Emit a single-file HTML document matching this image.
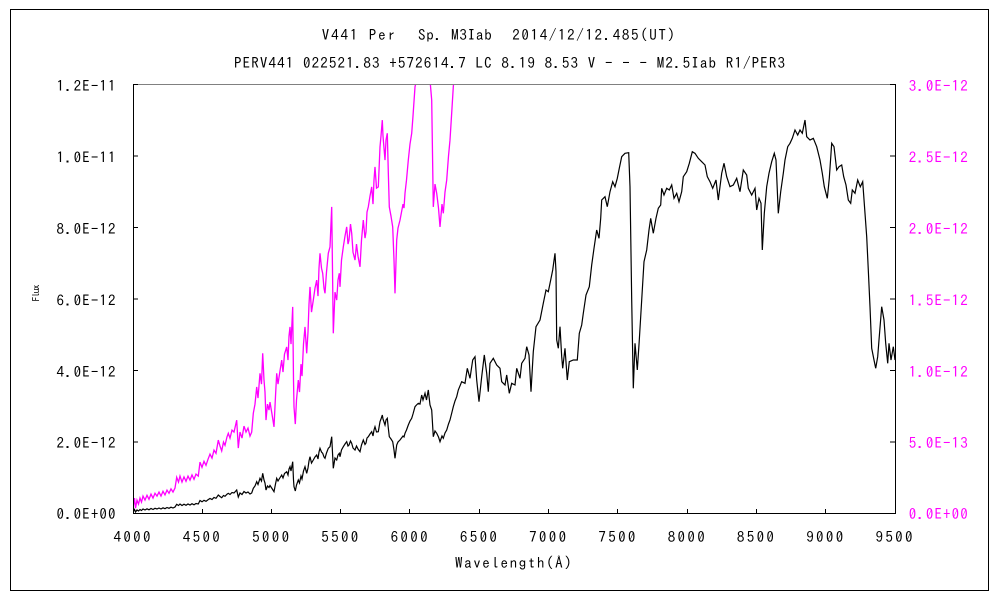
<!DOCTYPE html>
<html><head><meta charset="utf-8"><style>
html,body{margin:0;padding:0;background:#fff;}
svg{display:block;}
text{font-family:"IPAGothic","Liberation Sans","Noto Sans CJK JP",sans-serif;}
</style></head><body>
<svg width="1000" height="600" viewBox="0 0 1000 600" xmlns="http://www.w3.org/2000/svg">
<defs><clipPath id="pc"><rect x="133" y="85" width="762" height="428.5"/></clipPath></defs>
<rect x="0" y="0" width="1000" height="600" fill="#fff"/>
<rect x="10.5" y="9.5" width="978" height="581" fill="none" stroke="#000" stroke-width="1"/>

<!-- titles -->
<g font-size="15" fill="#000">
<text x="321.7" y="40" textLength="73.3">V441 Per</text>
<text x="418" y="40" textLength="73.7">Sp. M3Iab</text>
<text x="512.3" y="40" textLength="162.7">2014/12/12.485(UT)</text>
<text x="234" y="68" textLength="551">PERV441 022521.83 +572614.7 LC 8.19 8.53 V - - - M2.5Iab R1/PER3</text>
</g>

<!-- series -->
<g clip-path="url(#pc)" fill="none" stroke-linejoin="miter">
<g transform="translate(0,513.3) scale(1,4) translate(0,-513.3)">
<polyline stroke="#ff00ff" stroke-width="1.3" vector-effect="non-scaling-stroke" points="133.3,511.5 134.5,509.5 135.5,512 137,510 138.5,511 140,509.5 141.5,510.5 143,509 145,510 147,508.8 149,509.8 151,508.5 153,509.5 155,508.3 157,509 159,508 161,509 163,507.8 165,508.7 167,507.5 169,508.3 171,507.2 173,508 175,507 176.7,504.3 178.5,505.5 180,504 182,505.5 184,504.2 186,505.3 188,504 190,505 192,503.7 194,504.8 196,503.5 198.3,504 200,500.5 202,501.8 204,500.3 206,501.3 208,499.8 210,498.5 212,499.5 214,497.5 216,498.3 218.3,495 220,496.5 221.7,497.7 223.5,495.5 225,496.3 227,494.2 228.3,493.3 230,494.5 232,492.5 234,493 236.7,490 238.3,497 240,493 242,494.5 244,491.5 246,493 248,492 250,494 251.7,493 253.3,488.3 255,486 256.7,481.7 258,484.5 260,478.3 261.5,481 262.7,473.3 264,480 265,483 266,490 267.5,486 269,487.5 270,485.5 272,488.5 274,491.7 275.5,484 276.7,478.3 278,481 279.5,478.5 281.7,475 283,478 284.5,473.5 286.7,471.7 288,475 289,469 290,466.7 291,471 292.7,461.7 293.5,480 294,486.7 295.3,491 296.5,485 298.3,480 299.5,483 301,476 302,479 303.5,471 305,466.7 306.7,473.3 308,468 309,461 310,456.7 311.5,463 313.3,460 315,457 316.7,455 318,459 319,452 320,448.3 321.5,452 322.7,453.3 324,457 325,458.3 326.5,453 328.3,448.3 330,446.7 331.7,436.7 333.3,468.3 335,458 336.7,460 338,455 339.3,453.3 340,456.7 341.5,450 343.3,446.7 345,444 346.7,441.7 348,446 349,445 350.5,441 351.7,443.3 353,448 355,450 356.5,446 358,449 360,451.7 361.5,445 363.3,440 365,444.5 366,443 367,438 368.3,436.7 370,434 371.7,431.7 373,436 374,430 375,426.7 376.5,432 378.3,431.7 380,421.7 381,419 382.3,415 383,419 384,422 385,425 386,420 387.3,418.3 388.3,428 389.3,436.7 391,439 392.7,441.7 394,450 395,458.3 396.7,445 398,442 400,440 401.5,438 403,436 404,437 405,433.3 406.5,430 408.3,425 410,421 411.7,418.3 413,414 415,406.7 416.5,405 418.3,403.3 420,404 421.7,395 423,400 425,393.3 426.5,400 428.3,390 430,405 431.7,410 433.3,436.7 435,431 436.7,433.3 438.5,437 440,441.7 442,436 443.3,438.3 445,433 446.7,430 448.5,424 450,420 452,412 453.3,406.7 455,401 456.7,396.7 458.3,390 461.7,381.7 465,383.3"/>
</g>
<polyline stroke="#000" stroke-width="1.2" points="133.3,511.5 134.5,509.5 135.5,512 137,510 138.5,511 140,509.5 141.5,510.5 143,509 145,510 147,508.8 149,509.8 151,508.5 153,509.5 155,508.3 157,509 159,508 161,509 163,507.8 165,508.7 167,507.5 169,508.3 171,507.2 173,508 175,507 176.7,504.3 178.5,505.5 180,504 182,505.5 184,504.2 186,505.3 188,504 190,505 192,503.7 194,504.8 196,503.5 198.3,504 200,500.5 202,501.8 204,500.3 206,501.3 208,499.8 210,498.5 212,499.5 214,497.5 216,498.3 218.3,495 220,496.5 221.7,497.7 223.5,495.5 225,496.3 227,494.2 228.3,493.3 230,494.5 232,492.5 234,493 236.7,490 238.3,497 240,493 242,494.5 244,491.5 246,493 248,492 250,494 251.7,493 253.3,488.3 255,486 256.7,481.7 258,484.5 260,478.3 261.5,481 262.7,473.3 264,480 265,483 266,490 267.5,486 269,487.5 270,485.5 272,488.5 274,491.7 275.5,484 276.7,478.3 278,481 279.5,478.5 281.7,475 283,478 284.5,473.5 286.7,471.7 288,475 289,469 290,466.7 291,471 292.7,461.7 293.5,480 294,486.7 295.3,491 296.5,485 298.3,480 299.5,483 301,476 302,479 303.5,471 305,466.7 306.7,473.3 308,468 309,461 310,456.7 311.5,463 313.3,460 315,457 316.7,455 318,459 319,452 320,448.3 321.5,452 322.7,453.3 324,457 325,458.3 326.5,453 328.3,448.3 330,446.7 331.7,436.7 333.3,468.3 335,458 336.7,460 338,455 339.3,453.3 340,456.7 341.5,450 343.3,446.7 345,444 346.7,441.7 348,446 349,445 350.5,441 351.7,443.3 353,448 355,450 356.5,446 358,449 360,451.7 361.5,445 363.3,440 365,444.5 366,443 367,438 368.3,436.7 370,434 371.7,431.7 373,436 374,430 375,426.7 376.5,432 378.3,431.7 380,421.7 381,419 382.3,415 383,419 384,422 385,425 386,420 387.3,418.3 388.3,428 389.3,436.7 391,439 392.7,441.7 394,450 395,458.3 396.7,445 398,442 400,440 401.5,438 403,436 404,437 405,433.3 406.5,430 408.3,425 410,421 411.7,418.3 413,414 415,406.7 416.5,405 418.3,403.3 420,404 421.7,395 423,400 425,393.3 426.5,400 428.3,390 430,405 431.7,410 433.3,436.7 435,431 436.7,433.3 438.5,437 440,441.7 442,436 443.3,438.3 445,433 446.7,430 448.5,424 450,420 452,412 453.3,406.7 455,401 456.7,396.7 458.3,390 461.7,381.7 465,383.3 467.3,368.3 470,378.3 472.7,360 475,356.7 476.7,380 479,401.7 481.7,376.7 484.3,355 486.7,373.3 488.3,391.7 490,363.3 493.3,358.3 496.7,365 500,368.3 501.7,381.7 505,385 506.7,375 509.3,393.3 511.7,383.3 515,385 516.7,368.3 520,378.3 521.7,363.3 525,358.3 526.7,346.7 529,355 531,391.7 533.3,351.7 536,326.7 540,320 543.3,303.3 546,290 548.3,291.7 550.7,280 552.7,270 555,253.3 556,271.7 556.7,340 558.3,348.3 560,326.7 561.7,356.7 562.7,368.3 565,348.3 567.3,380 569.3,361.7 573.3,360 577.3,360 579.3,333.3 581.7,325 583.3,313.3 586,295 589.3,286.7 591.7,265 594,248.3 596.7,230 599,238.3 600.7,218.3 601.7,200 605,196.7 607.3,206.7 610,191.7 612.7,181.7 615,186.7 617.3,178.3 619.3,168.3 621.7,156.7 625,153.3 628.7,152.7 630,186.7 631.7,300 633.3,388.3 635,343.3 637.3,370 639.3,340 641.7,300 644,261.7 646.7,250 649,230 650.7,218.3 653.3,233.3 656,218.3 658.3,208.3 660.7,205 661.7,188.3 664,195 666.7,188.3 669.3,190 671.7,185 674,198.3 676.7,193.3 679,201.7 681.7,191.7 683.3,176.7 686.7,171.7 689.3,163.3 692.3,151.7 695,153.3 698.3,158.3 701.7,161.7 705,165 707.3,176.7 710,181.7 712.7,188.3 716,180 718.3,200 721.7,173.3 724,163.3 726.7,176.7 730,186.7 733.3,185 736.7,178.3 740,191.7 743.3,170 746.7,175 748.3,188.3 751.7,195 755,188.3 756.7,210 759,198.3 761,203.3 762.3,250 764.3,213.3 766.7,186.7 769,173.3 771.7,161.7 774.3,153.3 776,160 778.3,213.3 780.7,191.7 783.3,173.3 785,160 787.7,146.7 790,143.3 792.3,138.3 795,130 797.7,135 800,130 802.3,133.3 805,120 806.7,136.7 810,140 813.3,138.3 816.7,146.7 820,160 822.3,173.3 824.3,186.7 827.3,198.3 829.3,178.3 831.7,143.3 834,146.7 836.7,170 839,166.7 841.7,165 843.7,176.7 846,185 848.3,200 850.7,203.3 852.3,190 855,193.3 857.7,180 860.3,186.7 862.7,181.7 865,213.3 866.7,236.7 868.3,270 870,306.7 871.7,348.3 874,360 875.7,368.3 877.7,356.7 879,340 881.7,306.7 884,320 885.7,343.3 887.7,363.3 889,343.3 891,360 893.3,346.7 895,360"/>
</g>

<!-- axes -->
<line x1="133" y1="84.5" x2="895" y2="84.5" stroke="#808080" stroke-width="1"/>
<line x1="133.5" y1="84" x2="133.5" y2="514" stroke="#000" stroke-width="1"/>
<line x1="133" y1="513.5" x2="896" y2="513.5" stroke="#000" stroke-width="1"/>
<line x1="895.5" y1="84" x2="895.5" y2="514" stroke="#000" stroke-width="1"/>

<!-- ticks -->
<g stroke="#000" stroke-width="1">
<line x1="133" y1="84.5" x2="138" y2="84.5"/>
<line x1="133" y1="156" x2="138" y2="156"/>
<line x1="133" y1="227.5" x2="138" y2="227.5"/>
<line x1="133" y1="299" x2="138" y2="299"/>
<line x1="133" y1="370.5" x2="138" y2="370.5"/>
<line x1="133" y1="442" x2="138" y2="442"/>
<line x1="890" y1="84.5" x2="895" y2="84.5"/>
<line x1="890" y1="156" x2="895" y2="156"/>
<line x1="890" y1="227.5" x2="895" y2="227.5"/>
<line x1="890" y1="299" x2="895" y2="299"/>
<line x1="890" y1="370.5" x2="895" y2="370.5"/>
<line x1="890" y1="442" x2="895" y2="442"/>
<line x1="202.5" y1="509" x2="202.5" y2="513"/>
<line x1="271.5" y1="509" x2="271.5" y2="513"/>
<line x1="340.5" y1="509" x2="340.5" y2="513"/>
<line x1="409.5" y1="509" x2="409.5" y2="513"/>
<line x1="479.5" y1="509" x2="479.5" y2="513"/>
<line x1="548.5" y1="509" x2="548.5" y2="513"/>
<line x1="617.5" y1="509" x2="617.5" y2="513"/>
<line x1="687.5" y1="509" x2="687.5" y2="513"/>
<line x1="756.5" y1="509" x2="756.5" y2="513"/>
<line x1="825.5" y1="509" x2="825.5" y2="513"/>
</g>

<!-- left labels -->
<g font-size="15" fill="#000" text-anchor="end">
<text x="115.5" y="91" textLength="59">1.2E-11</text>
<text x="115.5" y="162.5" textLength="59">1.0E-11</text>
<text x="115.5" y="234" textLength="59">8.0E-12</text>
<text x="115.5" y="305.5" textLength="59">6.0E-12</text>
<text x="115.5" y="377" textLength="59">4.0E-12</text>
<text x="115.5" y="448" textLength="59">2.0E-12</text>
<text x="115.5" y="519" textLength="59">0.0E+00</text>
</g>
<!-- right labels -->
<g font-size="15" fill="#ff00ff">
<text x="908.7" y="91" textLength="59">3.0E-12</text>
<text x="908.7" y="162.5" textLength="59">2.5E-12</text>
<text x="908.7" y="234" textLength="59">2.0E-12</text>
<text x="908.7" y="305.5" textLength="59">1.5E-12</text>
<text x="908.7" y="377" textLength="59">1.0E-12</text>
<text x="908.7" y="448" textLength="59">5.0E-13</text>
<text x="908.7" y="519" textLength="59">0.0E+00</text>
</g>
<!-- x labels -->
<g font-size="15" fill="#000" text-anchor="middle">
<text x="132" y="542" textLength="37">4000</text>
<text x="201.3" y="542" textLength="37">4500</text>
<text x="270.6" y="542" textLength="37">5000</text>
<text x="339.8" y="542" textLength="37">5500</text>
<text x="409.1" y="542" textLength="37">6000</text>
<text x="478.4" y="542" textLength="37">6500</text>
<text x="547.6" y="542" textLength="37">7000</text>
<text x="616.9" y="542" textLength="37">7500</text>
<text x="686.2" y="542" textLength="37">8000</text>
<text x="755.4" y="542" textLength="37">8500</text>
<text x="824.7" y="542" textLength="37">9000</text>
<text x="894" y="542" textLength="37">9500</text>
</g>
<text x="455" y="568" font-size="15" fill="#000" textLength="116.7">Wavelength(Å)</text>
<text transform="translate(39.5,293) rotate(-90)" font-size="10" fill="#000" text-anchor="middle" textLength="17">Flux</text>
</svg>
</body></html>
